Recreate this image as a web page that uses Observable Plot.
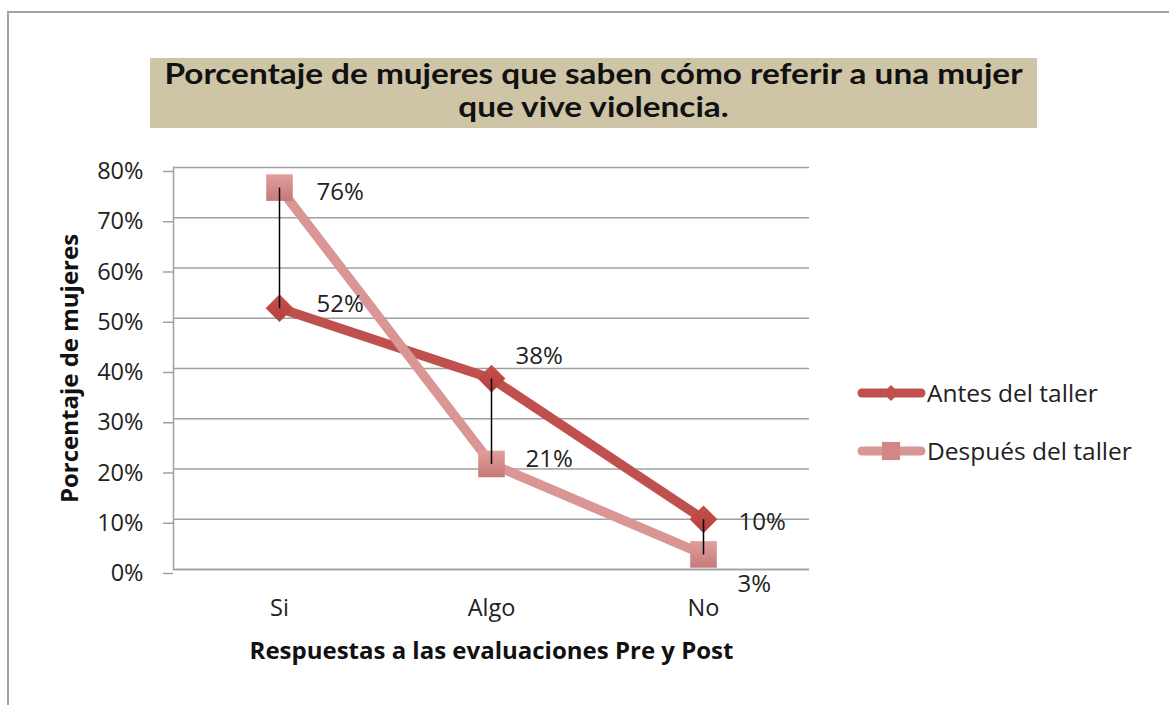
<!DOCTYPE html>
<html>
<head>
<meta charset="utf-8">
<script src="https://cdn.jsdelivr.net/npm/d3@7"></script>
<script src="https://cdn.jsdelivr.net/npm/@observablehq/plot@0.6"></script>
<style>
  body { margin: 0; background: #fff; }
  #wrap { position: relative; width: 1169px; height: 705px; overflow: hidden; font-family: "Open Sans", sans-serif; }
  #wrap svg.plot { position: absolute; left: 0; top: 0; }
  #frame { position: absolute; left: 7px; top: 11px; width: 1200px; height: 800px; border-top: 2px solid #a3a3a3; border-left: 2px solid #a3a3a3; }
  #title { position: absolute; left: 150px; top: 58px; width: 887px; height: 70px; background: #cdc5a6; }
  #title .ln { position: absolute; left: 0; width: 887px; text-align: center; font-family: Lato, sans-serif;
               font-weight: 700; font-size: 28px; line-height: 33px; height: 33px; color: #111; white-space: nowrap;
               transform: scaleX(1.19); transform-origin: 50% 50%; }
  #legend { position: absolute; left: 850px; top: 370px; }
</style>
</head>
<body>
<div id="wrap">
  <div id="chart"></div>
  <div id="frame"></div>
  <div id="title"></div>
  <div id="legend"></div>
</div>
<script>
// ---- data ----
const categories = ["Si", "Algo", "No"];
const antes = [0.52, 0.38, 0.10];
const despues = [0.76, 0.21, 0.03];
const seriesNames = ["Antes del taller", "Después del taller"];
const yTicks = [0, 0.1, 0.2, 0.3, 0.4, 0.5, 0.6, 0.7, 0.8];
const titleLines = ["Porcentaje de mujeres que saben cómo referir a una mujer", "que vive violencia."];
const xTitle = "Respuestas a las evaluaciones Pre y Post";
const yTitle = "Porcentaje de mujeres";

// ---- title ----
titleLines.forEach((t, i) => {
  const d = document.createElement("div");
  d.className = "ln";
  d.style.top = (-1 + i * 33) + "px";
  d.textContent = t;
  document.getElementById("title").appendChild(d);
});

// ---- derived tables ----
const rowsAntes = categories.map((c, i) => ({cat: c, value: antes[i], serie: seriesNames[0]}));
const rowsDespues = categories.map((c, i) => ({cat: c, value: despues[i], serie: seriesNames[1]}));
const hiLo = categories.map((c, i) => ({cat: c, a: antes[i], b: despues[i]}));

const cAntes = "#c0504d";
const cDespues = "#d99694";
const fmt = d3.format(".0%");

// label placement (style, per point)
const labelOffsetsAntes = [[37, -4], [24, -22], [35, 3]];
const labelOffsetsDespues = [[37, 5], [34, -5], [34, 30]];

const labelMarks = [];
rowsAntes.forEach((d, i) => labelMarks.push(Plot.text([d], {x: "cat", y: "value", text: r => fmt(r.value), textAnchor: "start",
  dx: labelOffsetsAntes[i][0], dy: labelOffsetsAntes[i][1], fontSize: 24, fill: "#222"})));
rowsDespues.forEach((d, i) => labelMarks.push(Plot.text([d], {x: "cat", y: "value", text: r => fmt(r.value), textAnchor: "start",
  dx: labelOffsetsDespues[i][0], dy: labelOffsetsDespues[i][1], fontSize: 24, fill: "#222"})));

const plot = Plot.plot({
  width: 1169,
  height: 705,
  marginLeft: 173,
  marginRight: 360,
  marginTop: 167,
  marginBottom: 136,
  style: {fontFamily: "Open Sans, sans-serif", background: "transparent", overflow: "visible"},
  x: {type: "point", domain: categories, padding: 0.5, label: null},
  y: {domain: [0, 0.8], ticks: yTicks, label: null, tickFormat: fmt},
  marks: [
    Plot.gridY(yTicks, {stroke: "#a0a0a0", strokeOpacity: 1, strokeWidth: 1.5}),
    Plot.axisY(yTicks, {tickSize: 10, tickPadding: 20, stroke: "#a0a0a0", strokeOpacity: 1, strokeWidth: 1.5,
      fontSize: 23.5, fill: "#222", dy: 4, tickFormat: fmt, label: null}),
    Plot.axisX({tickSize: 0, tickPadding: 30, fontSize: 23.5, fill: "#222", label: null}),
    Plot.frame({anchor: "left", stroke: "#a0a0a0", strokeWidth: 1.5}),
    Plot.ruleY([0], {stroke: "#a0a0a0", strokeWidth: 1.5}),
    Plot.line(rowsAntes, {x: "cat", y: "value", stroke: cAntes, strokeWidth: 9.5, strokeLinejoin: "round"}),
    Plot.line(rowsDespues, {x: "cat", y: "value", stroke: cDespues, strokeWidth: 9.5, strokeLinejoin: "round"}),
    Plot.dot(rowsAntes, {x: "cat", y: "value", symbol: "diamond2", r: 12.5, fill: "url(#gradDiamond)", stroke: "none"}),
    Plot.dot(rowsDespues, {x: "cat", y: "value", symbol: "square", r: 15, fill: "url(#gradSquare)", stroke: "none"}),
    Plot.link(hiLo, {x1: "cat", x2: "cat", y1: "a", y2: "b", stroke: "#000", strokeWidth: 1.5}),
    ...labelMarks,
    Plot.text([yTitle], {frameAnchor: "left", textAnchor: "middle", dx: -103, rotate: -90, fontSize: 24, fontWeight: "bold", fill: "#111"}),
    Plot.text([xTitle], {frameAnchor: "bottom", textAnchor: "middle", dy: 89, fontSize: 24, fontWeight: "bold", fill: "#111"})
  ]
});
plot.classList.add("plot");

// gradients for markers
const ns = "http://www.w3.org/2000/svg";
const defs = document.createElementNS(ns, "defs");
defs.innerHTML = `
  <linearGradient id="gradSquare" x1="0" y1="0" x2="0" y2="1">
    <stop offset="0" stop-color="#e19e9c"/><stop offset="1" stop-color="#c57a79"/>
  </linearGradient>
  <linearGradient id="gradDiamond" x1="0" y1="0" x2="0" y2="1">
    <stop offset="0" stop-color="#c94f4b"/><stop offset="1" stop-color="#b2403d"/>
  </linearGradient>`;
plot.insertBefore(defs, plot.firstChild);
document.getElementById("chart").appendChild(plot);

// legend
const lg = d3.select("#legend").append("svg").attr("width", 319).attr("height", 110)
  .style("font-family", "Open Sans, sans-serif");
const items = [
  {name: seriesNames[0], color: cAntes, y: 23, sym: d3.symbolDiamond2, size: 160, fill: "#c0504d"},
  {name: seriesNames[1], color: cDespues, y: 81, sym: d3.symbolSquare, size: 330, fill: "#d08886"}
];
items.forEach(it => {
  lg.append("line").attr("x1", 12).attr("x2", 71).attr("y1", it.y).attr("y2", it.y)
    .attr("stroke", it.color).attr("stroke-width", 9).attr("stroke-linecap", "round");
  lg.append("path").attr("d", d3.symbol(it.sym, it.size)()).attr("transform", `translate(41,${it.y})`)
    .attr("fill", it.fill);
  lg.append("text").attr("x", 77).attr("y", it.y).attr("dy", "0.35em").attr("font-size", 24.5)
    .attr("fill", "#222").text(it.name);
});
</script>
</body>
</html>
